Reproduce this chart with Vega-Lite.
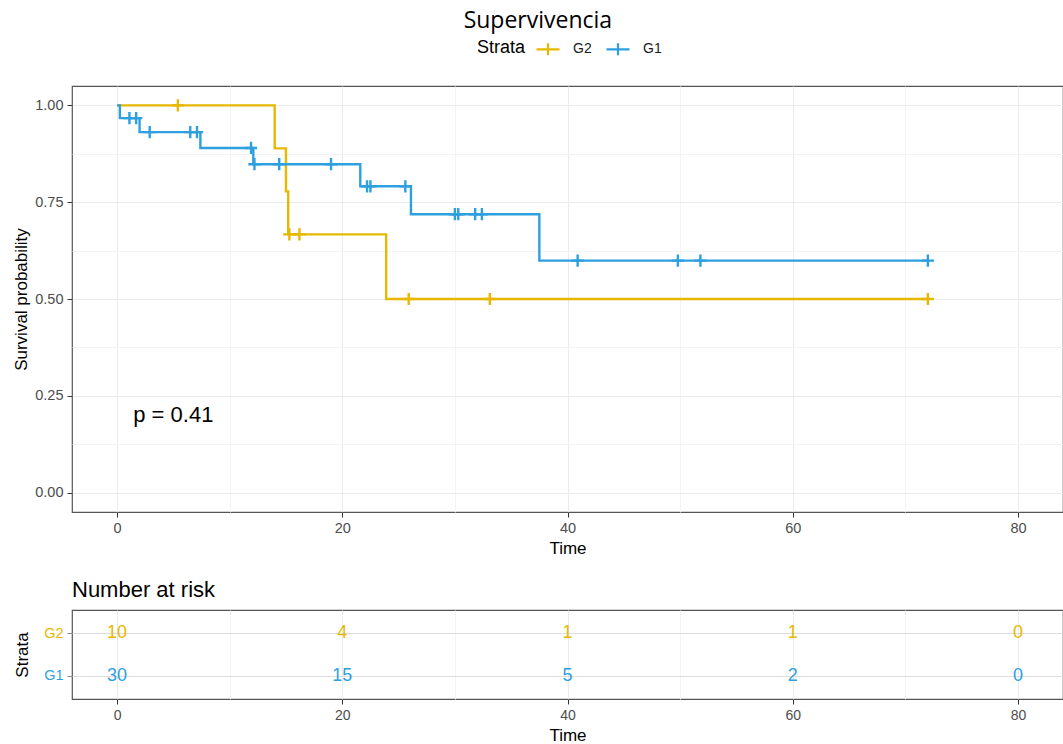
{
  "$schema": "https://vega.github.io/schema/vega-lite/v6.json",
  "background": "white",
  "padding": {"left": 12, "top": 10, "right": 0, "bottom": 0},
  "title": {"text": "Supervivencia", "font": "Open Sans", "fontSize": 23, "fontWeight": "normal", "color": "black", "anchor": "middle", "offset": 2},
  "datasets": {
    "km": [
      {"strata": "G2", "time": 0, "surv": 1.0},
      {"strata": "G2", "time": 14.0, "surv": 0.889},
      {"strata": "G2", "time": 15.0, "surv": 0.778},
      {"strata": "G2", "time": 15.2, "surv": 0.667},
      {"strata": "G2", "time": 23.9, "surv": 0.5},
      {"strata": "G2", "time": 72.0, "surv": 0.5},
      {"strata": "G1", "time": 0, "surv": 1.0},
      {"strata": "G1", "time": 0.25, "surv": 0.967},
      {"strata": "G1", "time": 2.0, "surv": 0.931},
      {"strata": "G1", "time": 7.4, "surv": 0.890},
      {"strata": "G1", "time": 12.1, "surv": 0.848},
      {"strata": "G1", "time": 21.6, "surv": 0.791},
      {"strata": "G1", "time": 26.1, "surv": 0.719},
      {"strata": "G1", "time": 37.5, "surv": 0.599},
      {"strata": "G1", "time": 72.0, "surv": 0.599}
    ],
    "censor": [
      {"strata": "G2", "time": 5.4, "surv": 1.0},
      {"strata": "G2", "time": 15.3, "surv": 0.667},
      {"strata": "G2", "time": 16.2, "surv": 0.667},
      {"strata": "G2", "time": 25.9, "surv": 0.5},
      {"strata": "G2", "time": 33.1, "surv": 0.5},
      {"strata": "G2", "time": 72.0, "surv": 0.5},
      {"strata": "G1", "time": 1.1, "surv": 0.967},
      {"strata": "G1", "time": 1.7, "surv": 0.967},
      {"strata": "G1", "time": 2.9, "surv": 0.931},
      {"strata": "G1", "time": 6.5, "surv": 0.931},
      {"strata": "G1", "time": 7.1, "surv": 0.931},
      {"strata": "G1", "time": 11.9, "surv": 0.890},
      {"strata": "G1", "time": 12.2, "surv": 0.848},
      {"strata": "G1", "time": 14.4, "surv": 0.848},
      {"strata": "G1", "time": 19.0, "surv": 0.848},
      {"strata": "G1", "time": 22.2, "surv": 0.791},
      {"strata": "G1", "time": 22.5, "surv": 0.791},
      {"strata": "G1", "time": 25.6, "surv": 0.791},
      {"strata": "G1", "time": 30.0, "surv": 0.719},
      {"strata": "G1", "time": 30.3, "surv": 0.719},
      {"strata": "G1", "time": 31.8, "surv": 0.719},
      {"strata": "G1", "time": 32.4, "surv": 0.719},
      {"strata": "G1", "time": 40.9, "surv": 0.599},
      {"strata": "G1", "time": 49.8, "surv": 0.599},
      {"strata": "G1", "time": 51.8, "surv": 0.599},
      {"strata": "G1", "time": 72.0, "surv": 0.599}
    ],
    "pval": [
      {"time": 1.44, "surv": 0.2, "label": "p = 0.41"}
    ],
    "risk": [
      {"strata": "G2", "time": 0, "n": 10},
      {"strata": "G2", "time": 20, "n": 4},
      {"strata": "G2", "time": 40, "n": 1},
      {"strata": "G2", "time": 60, "n": 1},
      {"strata": "G2", "time": 80, "n": 0},
      {"strata": "G1", "time": 0, "n": 30},
      {"strata": "G1", "time": 20, "n": 15},
      {"strata": "G1", "time": 40, "n": 5},
      {"strata": "G1", "time": 60, "n": 2},
      {"strata": "G1", "time": 80, "n": 0}
    ]
  },
  "spacing": 20,
  "resolve": {"legend": {"color": "independent"}},
  "vconcat": [
    {
      "width": 991,
      "height": 426,
      "layer": [
        {
          "data": {"name": "km"},
          "mark": {"type": "line", "interpolate": "step-after", "strokeWidth": 2.4},
          "encoding": {
            "x": {
              "field": "time", "type": "quantitative",
              "scale": {"domain": [-4, 84], "nice": false, "zero": false},
              "axis": {
                "title": "Time",
                "values": [0, 10, 20, 30, 40, 50, 60, 70, 80],
                "labelExpr": "datum.value % 20 === 0 ? datum.label : ''",
                "labelOverlap": false,
                "labelFlush": false,
                "labelPadding": 4,
                "titlePadding": 6,
                "tickColor": {"condition": {"test": "datum.value % 20 !== 0", "value": "transparent"}, "value": "#333333"},
                "gridColor": {"condition": {"test": "datum.value % 20 === 0", "value": "#EBEBEB"}, "value": "#F3F3F3"}
              }
            },
            "y": {
              "field": "surv", "type": "quantitative",
              "scale": {"domain": [-0.05, 1.05], "nice": false, "zero": false},
              "axis": {
                "title": "Survival probability",
                "values": [0, 0.125, 0.25, 0.375, 0.5, 0.625, 0.75, 0.875, 1],
                "labelExpr": "(datum.value * 4) % 1 === 0 ? format(datum.value, '.2f') : ''",
                "labelOverlap": false,
                "labelFlush": false,
                "labelPadding": 4,
                "titlePadding": 4,
                "tickColor": {"condition": {"test": "(datum.value * 4) % 1 !== 0", "value": "transparent"}, "value": "#333333"},
                "gridColor": {"condition": {"test": "(datum.value * 4) % 1 === 0", "value": "#EBEBEB"}, "value": "#F3F3F3"}
              }
            },
            "color": {
              "field": "strata", "type": "nominal",
              "scale": {"domain": ["G2", "G1"], "range": ["#E7B800", "#2E9FDF"]},
              "legend": {
                "title": "Strata",
                "orient": "none",
                "direction": "horizontal",
                "legendX": 405,
                "legendY": -50,
                "titleOrient": "left",
                "titleFontSize": 18,
                "titleFontWeight": "normal",
                "titleColor": "black",
                "titlePadding": 9,
                "labelFontSize": 14,
                "labelColor": "#1a1a1a",
                "labelOffset": 12,
                "columnPadding": 10,
                "symbolType": "M-1,0L1,0M0,-0.52L0,0.52",
                "symbolSize": 529,
                "symbolStrokeWidth": 2.2,
                "symbolFillColor": "transparent"
              }
            }
          }
        },
        {
          "data": {"name": "censor"},
          "mark": {"type": "point", "shape": "M-1,0L1,0M0,-1L0,1", "size": 150, "strokeWidth": 2.4, "filled": false, "opacity": 1},
          "encoding": {
            "x": {"field": "time", "type": "quantitative"},
            "y": {"field": "surv", "type": "quantitative"},
            "color": {"field": "strata", "type": "nominal"}
          }
        },
        {
          "data": {"name": "pval"},
          "mark": {"type": "text", "align": "left", "baseline": "middle", "fontSize": 22, "font": "Liberation Sans", "color": "black"},
          "encoding": {
            "x": {"field": "time", "type": "quantitative"},
            "y": {"field": "surv", "type": "quantitative"},
            "text": {"field": "label"}
          }
        }
      ]
    },
    {
      "title": {"text": "Number at risk", "anchor": "start", "frame": "group", "fontSize": 22, "font": "Liberation Sans", "fontWeight": "normal", "color": "black", "offset": 8},
      "width": 991,
      "height": 89,
      "data": {"name": "risk"},
      "mark": {"type": "text", "fontSize": 18, "baseline": "middle", "align": "center"},
      "encoding": {
        "x": {
          "field": "time", "type": "quantitative",
          "scale": {"domain": [-4, 84], "nice": false, "zero": false},
          "axis": {
            "title": "Time",
            "values": [0, 10, 20, 30, 40, 50, 60, 70, 80],
            "labelExpr": "datum.value % 20 === 0 ? datum.label : ''",
            "labelOverlap": false,
            "labelFlush": false,
            "labelFontSize": 14,
            "labelPadding": 4,
            "titlePadding": 5,
            "tickColor": {"condition": {"test": "datum.value % 20 !== 0", "value": "transparent"}, "value": "#333333"},
            "gridColor": {"condition": {"test": "datum.value % 20 === 0", "value": "#EBEBEB"}, "value": "#F3F3F3"}
          }
        },
        "y": {
          "field": "strata", "type": "nominal",
          "sort": ["G2", "G1"],
          "scale": {"padding": 0.55},
          "axis": {
            "title": "Strata",
            "grid": true,
            "labelPadding": 4,
            "titlePadding": 12,
            "labelColor": {"condition": {"test": "datum.value === 'G2'", "value": "#E7B800"}, "value": "#2E9FDF"}
          }
        },
        "text": {"field": "n", "type": "quantitative"},
        "color": {"field": "strata", "type": "nominal", "legend": null}
      }
    }
  ],
  "config": {
    "font": "Liberation Sans",
    "view": {"stroke": "#555555", "strokeWidth": 1.2},
    "axis": {
      "labelFont": "Liberation Sans",
      "labelFontSize": 14.5,
      "labelColor": "#4D4D4D",
      "titleFont": "Liberation Sans",
      "titleFontSize": 17,
      "titleFontWeight": "normal",
      "titleColor": "black",
      "tickSize": 5,
      "domain": false,
      "grid": true,
      "gridWidth": 1
    },
    "legend": {"labelFont": "Liberation Sans", "titleFont": "Liberation Sans"}
  }
}
